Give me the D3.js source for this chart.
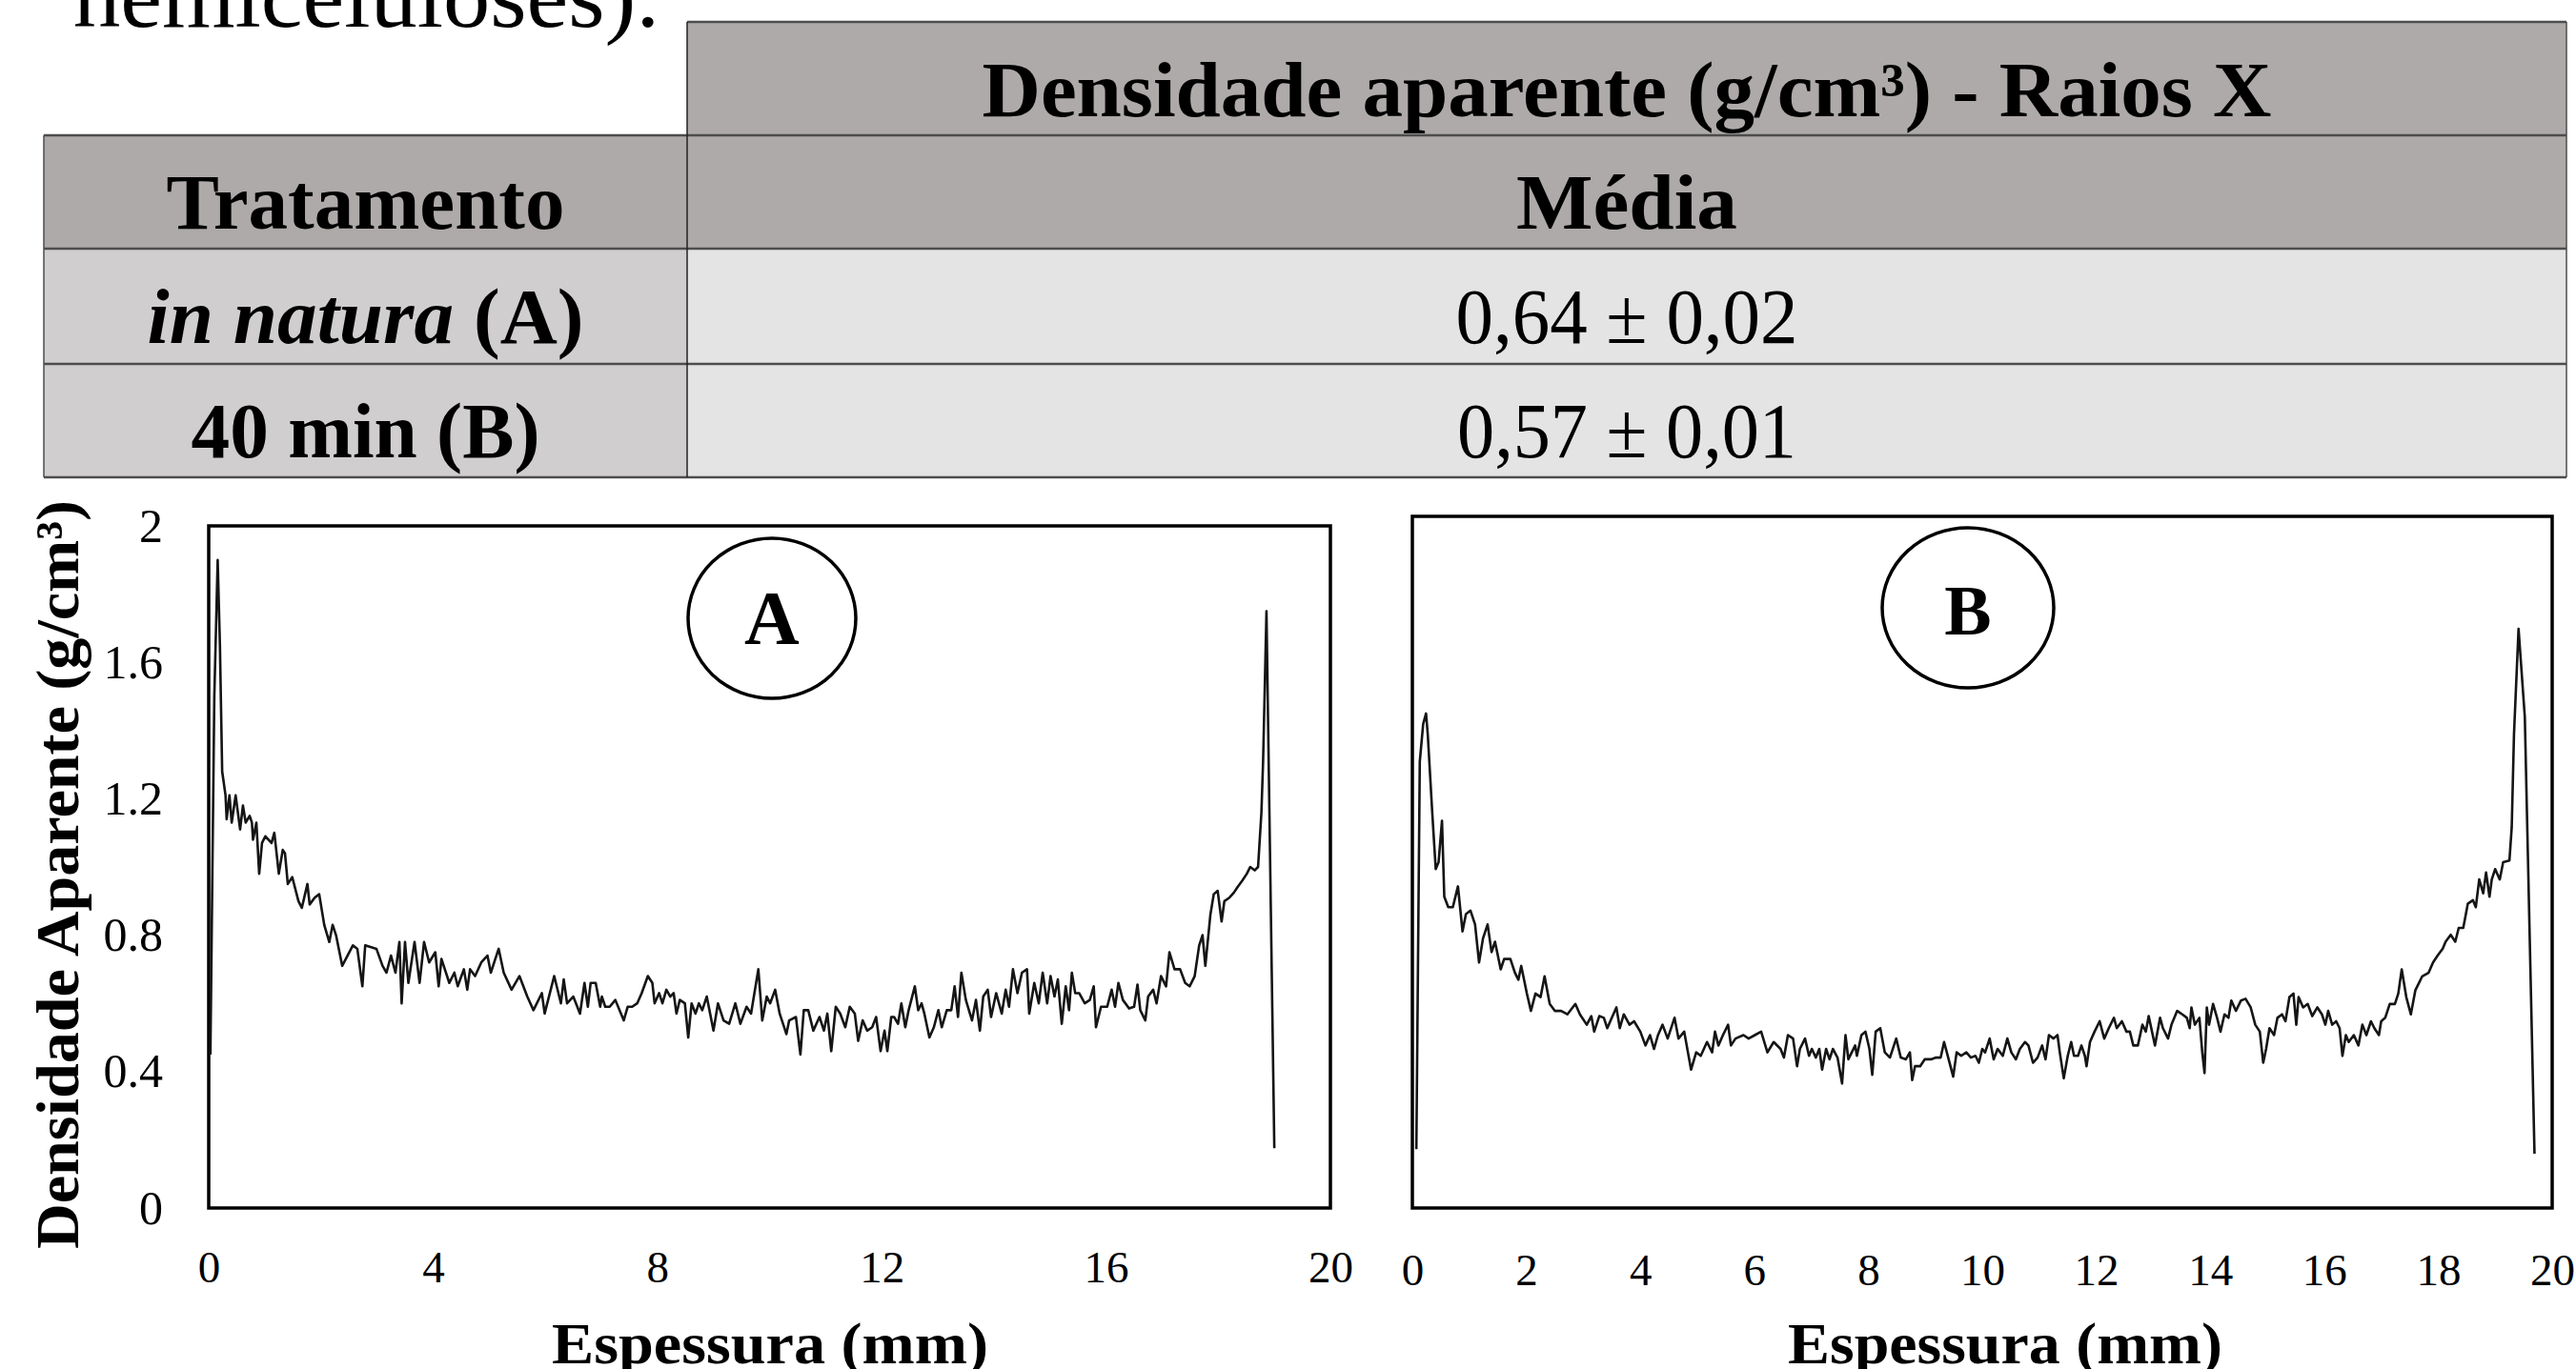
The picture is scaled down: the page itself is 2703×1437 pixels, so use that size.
<!DOCTYPE html>
<html>
<head>
<meta charset="utf-8">
<script src="https://cdn.jsdelivr.net/npm/d3@7"></script>
<style>
  html, body { margin: 0; padding: 0; background: #fff; }
  svg { display: block; }
  text { font-family: "Liberation Serif", "Times New Roman", serif; fill: #000; }
</style>
</head>
<body>
<div id="chart"></div>
<script>
// table contents
const headerTop = 'Densidade aparente (g/cm³) - Raios X';
const headerLeft = 'Tratamento';
const headerRight = 'Média';
const tratamentos = ['in natura (A)', '40 min (B)'];
const medias = ['0,64 ± 0,02', '0,57 ± 0,01'];

// axis ticks
const yTicks = [0, 0.4, 0.8, 1.2, 1.6, 2];
const xTicksA = [0, 4, 8, 12, 16, 20];
const xTicksB = [0, 2, 4, 6, 8, 10, 12, 14, 16, 18, 20];

// density profile A (in natura): [espessura mm, densidade g/cm3]
const perfilA = [
    [0.03, 0.45], [0.10, 1.50], [0.16, 1.90], [0.20, 1.65], [0.24, 1.28], [0.30, 1.21], [0.32, 1.14], [0.37, 1.21],
    [0.41, 1.13], [0.48, 1.21], [0.56, 1.11], [0.61, 1.18], [0.66, 1.13], [0.73, 1.15], [0.77, 1.13], [0.79, 1.08],
    [0.85, 1.13], [0.90, 0.98], [0.95, 1.07], [1.01, 1.09], [1.12, 1.07], [1.17, 1.10], [1.25, 0.98], [1.32, 1.05],
    [1.36, 1.04], [1.41, 0.95], [1.49, 0.97], [1.60, 0.90], [1.66, 0.88], [1.76, 0.95], [1.80, 0.89], [1.89, 0.91],
    [1.97, 0.92], [2.06, 0.83], [2.15, 0.78], [2.21, 0.83], [2.27, 0.80], [2.38, 0.71], [2.57, 0.77], [2.65, 0.76],
    [2.74, 0.65], [2.79, 0.77], [2.99, 0.76], [3.10, 0.71], [3.17, 0.69], [3.25, 0.74], [3.33, 0.69], [3.40, 0.78],
    [3.44, 0.60], [3.50, 0.78], [3.56, 0.66], [3.67, 0.78], [3.76, 0.66], [3.84, 0.78], [3.93, 0.72], [4.04, 0.75],
    [4.10, 0.65], [4.15, 0.73], [4.29, 0.66], [4.38, 0.69], [4.44, 0.65], [4.55, 0.70], [4.61, 0.64], [4.66, 0.70],
    [4.75, 0.68], [4.86, 0.72], [4.97, 0.74], [5.03, 0.69], [5.17, 0.76], [5.26, 0.69], [5.40, 0.64], [5.54, 0.68],
    [5.68, 0.62], [5.79, 0.58], [5.94, 0.63], [5.99, 0.57], [6.16, 0.68], [6.28, 0.60], [6.33, 0.67], [6.39, 0.60],
    [6.50, 0.62], [6.62, 0.57], [6.70, 0.66], [6.76, 0.59], [6.81, 0.66], [6.90, 0.66], [6.98, 0.59], [7.01, 0.62],
    [7.07, 0.59], [7.15, 0.59], [7.25, 0.61], [7.40, 0.55], [7.47, 0.59], [7.55, 0.59], [7.64, 0.60], [7.72, 0.63],
    [7.83, 0.68], [7.91, 0.66], [7.95, 0.60], [8.03, 0.63], [8.09, 0.60], [8.16, 0.64], [8.23, 0.62], [8.29, 0.63],
    [8.34, 0.57], [8.40, 0.61], [8.49, 0.60], [8.55, 0.50], [8.61, 0.60], [8.68, 0.57], [8.74, 0.60], [8.80, 0.58],
    [8.88, 0.62], [9.00, 0.52], [9.08, 0.60], [9.18, 0.55], [9.28, 0.54], [9.39, 0.60], [9.48, 0.54], [9.59, 0.59],
    [9.67, 0.57], [9.80, 0.70], [9.87, 0.55], [9.95, 0.62], [10.01, 0.60], [10.10, 0.64], [10.18, 0.57], [10.30, 0.51],
    [10.35, 0.55], [10.47, 0.56], [10.55, 0.45], [10.61, 0.58], [10.69, 0.58], [10.78, 0.52], [10.89, 0.56], [10.97, 0.52],
    [11.03, 0.57], [11.10, 0.46], [11.18, 0.59], [11.26, 0.57], [11.35, 0.53], [11.43, 0.59], [11.52, 0.57], [11.58, 0.49],
    [11.66, 0.55], [11.74, 0.52], [11.83, 0.53], [11.90, 0.56], [11.98, 0.46], [12.05, 0.52], [12.10, 0.46], [12.17, 0.56],
    [12.22, 0.56], [12.29, 0.54], [12.35, 0.60], [12.42, 0.53], [12.48, 0.58], [12.59, 0.65], [12.65, 0.58], [12.71, 0.60],
    [12.76, 0.57], [12.85, 0.50], [12.93, 0.53], [13.01, 0.58], [13.07, 0.53], [13.16, 0.58], [13.24, 0.58], [13.30, 0.65],
    [13.36, 0.56], [13.42, 0.69], [13.50, 0.61], [13.61, 0.55], [13.68, 0.61], [13.75, 0.52], [13.81, 0.62], [13.89, 0.64],
    [13.95, 0.56], [14.04, 0.63], [14.14, 0.57], [14.21, 0.64], [14.27, 0.59], [14.34, 0.70], [14.42, 0.63], [14.50, 0.69],
    [14.59, 0.70], [14.63, 0.57], [14.72, 0.66], [14.80, 0.60], [14.87, 0.69], [14.95, 0.60], [15.01, 0.68], [15.08, 0.62],
    [15.14, 0.67], [15.21, 0.54], [15.28, 0.65], [15.34, 0.58], [15.39, 0.69], [15.45, 0.63], [15.52, 0.63], [15.62, 0.60],
    [15.71, 0.61], [15.78, 0.65], [15.82, 0.53], [15.91, 0.59], [16.02, 0.59], [16.10, 0.64], [16.16, 0.59], [16.22, 0.66],
    [16.30, 0.61], [16.41, 0.585], [16.50, 0.59], [16.56, 0.655], [16.61, 0.58], [16.70, 0.55], [16.75, 0.62], [16.84, 0.64],
    [16.90, 0.60], [16.98, 0.68], [17.07, 0.65], [17.13, 0.75], [17.22, 0.70], [17.32, 0.70], [17.41, 0.66], [17.49, 0.65],
    [17.58, 0.68], [17.66, 0.77], [17.72, 0.80], [17.77, 0.71], [17.86, 0.86], [17.92, 0.92], [17.99, 0.93], [18.06, 0.84],
    [18.11, 0.90], [18.20, 0.91], [18.28, 0.925], [18.34, 0.94], [18.43, 0.96], [18.51, 0.98], [18.57, 1.00], [18.65, 0.99],
    [18.71, 1.00], [18.77, 1.16], [18.80, 1.31], [18.86, 1.75], [19.00, 0.175],
];

// density profile B (40 min)
const perfilB = [
    [0.07, 0.17], [0.13, 1.29], [0.19, 1.40], [0.24, 1.43], [0.27, 1.37], [0.35, 1.14], [0.41, 0.98], [0.46, 1.00],
    [0.52, 1.12], [0.56, 0.90], [0.63, 0.87], [0.71, 0.87], [0.80, 0.93], [0.88, 0.80], [0.94, 0.85], [1.02, 0.86],
    [1.10, 0.82], [1.17, 0.71], [1.24, 0.78], [1.32, 0.82], [1.39, 0.74], [1.45, 0.77], [1.55, 0.69], [1.61, 0.72],
    [1.72, 0.72], [1.80, 0.68], [1.86, 0.66], [1.91, 0.70], [2.01, 0.62], [2.08, 0.57], [2.16, 0.62], [2.25, 0.61],
    [2.32, 0.67], [2.41, 0.59], [2.50, 0.57], [2.61, 0.57], [2.72, 0.56], [2.86, 0.59], [2.94, 0.56], [3.06, 0.53],
    [3.14, 0.555], [3.19, 0.51], [3.28, 0.555], [3.36, 0.55], [3.42, 0.52], [3.50, 0.55], [3.58, 0.58], [3.64, 0.52],
    [3.71, 0.56], [3.81, 0.53], [3.89, 0.54], [4.00, 0.51], [4.09, 0.47], [4.17, 0.50], [4.24, 0.46], [4.31, 0.50],
    [4.39, 0.53], [4.48, 0.49], [4.60, 0.55], [4.67, 0.49], [4.77, 0.51], [4.89, 0.40], [4.98, 0.45], [5.06, 0.44],
    [5.17, 0.48], [5.26, 0.45], [5.31, 0.51], [5.37, 0.47], [5.45, 0.50], [5.54, 0.53], [5.59, 0.47], [5.67, 0.49],
    [5.81, 0.50], [5.90, 0.49], [6.01, 0.50], [6.12, 0.51], [6.23, 0.45], [6.34, 0.48], [6.46, 0.46], [6.52, 0.435],
    [6.59, 0.50], [6.68, 0.49], [6.75, 0.41], [6.80, 0.46], [6.89, 0.49], [6.96, 0.44], [7.01, 0.46], [7.08, 0.435],
    [7.14, 0.46], [7.19, 0.40], [7.26, 0.46], [7.32, 0.43], [7.38, 0.46], [7.46, 0.435], [7.54, 0.36], [7.60, 0.50],
    [7.65, 0.43], [7.71, 0.45], [7.77, 0.47], [7.80, 0.44], [7.88, 0.50], [7.95, 0.51], [8.02, 0.46], [8.07, 0.385],
    [8.13, 0.51], [8.21, 0.52], [8.29, 0.45], [8.38, 0.435], [8.49, 0.49], [8.57, 0.435], [8.66, 0.43], [8.73, 0.45],
    [8.77, 0.37], [8.82, 0.41], [8.91, 0.41], [8.99, 0.43], [9.10, 0.43], [9.19, 0.435], [9.27, 0.435], [9.33, 0.48],
    [9.41, 0.43], [9.49, 0.38], [9.55, 0.45], [9.63, 0.44], [9.72, 0.45], [9.80, 0.435], [9.88, 0.44], [9.94, 0.42],
    [10.00, 0.46], [10.05, 0.45], [10.13, 0.49], [10.20, 0.43], [10.27, 0.46], [10.36, 0.44], [10.44, 0.49], [10.51, 0.45],
    [10.59, 0.43], [10.66, 0.46], [10.75, 0.48], [10.81, 0.47], [10.89, 0.42], [10.97, 0.435], [11.05, 0.47], [11.11, 0.43],
    [11.17, 0.50], [11.25, 0.49], [11.32, 0.50], [11.36, 0.45], [11.43, 0.375], [11.50, 0.44], [11.56, 0.48], [11.61, 0.44],
    [11.68, 0.44], [11.74, 0.47], [11.80, 0.44], [11.83, 0.41], [11.89, 0.48], [11.97, 0.51], [12.06, 0.54], [12.14, 0.49],
    [12.22, 0.52], [12.31, 0.55], [12.36, 0.52], [12.45, 0.54], [12.53, 0.51], [12.59, 0.51], [12.65, 0.47], [12.73, 0.47],
    [12.81, 0.53], [12.87, 0.51], [12.92, 0.555], [13.03, 0.47], [13.12, 0.55], [13.17, 0.52], [13.26, 0.49], [13.32, 0.53],
    [13.42, 0.57], [13.51, 0.56], [13.59, 0.55], [13.64, 0.52], [13.67, 0.58], [13.73, 0.53], [13.81, 0.55], [13.86, 0.45],
    [13.90, 0.39], [13.94, 0.58], [13.98, 0.53], [14.05, 0.59], [14.12, 0.55], [14.18, 0.51], [14.25, 0.56], [14.32, 0.55],
    [14.37, 0.60], [14.45, 0.57], [14.54, 0.60], [14.62, 0.605], [14.71, 0.58], [14.79, 0.53], [14.87, 0.51], [14.93, 0.42],
    [14.98, 0.46], [15.04, 0.52], [15.12, 0.50], [15.18, 0.55], [15.26, 0.56], [15.32, 0.54], [15.39, 0.61], [15.46, 0.62],
    [15.51, 0.53], [15.55, 0.61], [15.63, 0.58], [15.71, 0.59], [15.79, 0.555], [15.88, 0.58], [15.96, 0.56], [16.02, 0.53],
    [16.07, 0.57], [16.14, 0.53], [16.21, 0.54], [16.27, 0.52], [16.32, 0.44], [16.38, 0.50], [16.43, 0.48], [16.52, 0.50],
    [16.60, 0.47], [16.67, 0.53], [16.74, 0.50], [16.82, 0.54], [16.88, 0.52], [16.96, 0.50], [17.00, 0.54], [17.07, 0.55],
    [17.15, 0.59], [17.24, 0.59], [17.30, 0.62], [17.36, 0.69], [17.44, 0.61], [17.52, 0.56], [17.60, 0.63], [17.72, 0.67],
    [17.83, 0.68], [17.91, 0.71], [17.99, 0.73], [18.08, 0.75], [18.13, 0.77], [18.22, 0.79], [18.30, 0.77], [18.36, 0.81],
    [18.44, 0.81], [18.52, 0.88], [18.61, 0.89], [18.66, 0.87], [18.72, 0.95], [18.79, 0.91], [18.84, 0.97], [18.90, 0.90],
    [18.94, 0.95], [19.00, 0.98], [19.08, 0.95], [19.14, 1.00], [19.25, 1.005], [19.29, 1.10], [19.33, 1.37], [19.41, 1.675],
    [19.52, 1.42], [19.69, 0.157],
];

const width = 2703;
const height = 1437;

const svg = d3.select('#chart').append('svg')
    .attr('width', width)
    .attr('height', height)
    .attr('viewBox', `0 0 ${width} ${height}`);

svg.append('rect').attr('width', width).attr('height', height).attr('fill', '#fff');

/**
 * TEXT ABOVE THE TABLE (cut by the page edge, as in the source)
 * */
svg.append('text')
    .attr('x', 77)
    .attr('y', 28)
    .attr('font-size', 96)
    .attr('textLength', 615)
    .attr('lengthAdjust', 'spacingAndGlyphs')
    .text('hemiceluloses).');

/**
 * TABLE
 * */
const table = {left: 46, mid: 721, right: 2693, rows: [23, 142, 261, 382, 501]};
const colors = {head: '#aeaaa9', side: '#d0cecf', cell: '#e4e4e4', line: '#4d4d4d'};
const tableG = svg.append('g').attr('class', 'table');

const addCell = (x, y, w, h, fill) => tableG.append('rect')
    .attr('x', x).attr('y', y).attr('width', w).attr('height', h).attr('fill', fill);

const r = table.rows;
addCell(table.mid, r[0], table.right - table.mid, r[1] - r[0], colors.head);
addCell(table.left, r[1], table.right - table.left, r[2] - r[1], colors.head);
tratamentos.forEach((t, i) => {
    addCell(table.left, r[i + 2], table.mid - table.left, r[i + 3] - r[i + 2], colors.side);
    addCell(table.mid, r[i + 2], table.right - table.mid, r[i + 3] - r[i + 2], colors.cell);
});

// horizontal rules
tableG.append('line')
    .attr('x1', table.mid).attr('x2', table.right).attr('y1', r[0]).attr('y2', r[0])
    .attr('stroke', colors.line).attr('stroke-width', 2.5);
r.slice(1).forEach((y) => {
    tableG.append('line')
        .attr('x1', table.left).attr('x2', table.right).attr('y1', y).attr('y2', y)
        .attr('stroke', colors.line).attr('stroke-width', 2.5);
});
// vertical rules
tableG.append('line').attr('x1', table.mid).attr('x2', table.mid).attr('y1', r[0]).attr('y2', r[4])
    .attr('stroke', '#222').attr('stroke-width', 1.5);
tableG.append('line').attr('x1', table.left).attr('x2', table.left).attr('y1', r[1]).attr('y2', r[4])
    .attr('stroke', colors.line).attr('stroke-width', 1.5);
tableG.append('line').attr('x1', table.right).attr('x2', table.right).attr('y1', r[0]).attr('y2', r[4])
    .attr('stroke', colors.line).attr('stroke-width', 1.5);

const leftCenter = (table.left + table.mid) / 2;
const rightCenter = (table.mid + table.right) / 2;

const addTableText = (x, y, txt, len, bold = true) => tableG.append('text')
    .attr('x', x).attr('y', y)
    .attr('text-anchor', 'middle')
    .attr('font-size', 83)
    .attr('font-weight', bold ? 'bold' : 'normal')
    .attr('textLength', len)
    .attr('lengthAdjust', 'spacingAndGlyphs')
    .text(txt);

addTableText(rightCenter, 122, headerTop, 1353);
addTableText(leftCenter, 240, headerLeft, 418);
addTableText(rightCenter, 240, headerRight, 232);

const treatLen = [458, 366];
const meanLen = [359, 356];
tratamentos.forEach((t, i) => {
    const y = 360 + i * 120;
    const el = tableG.append('text')
        .attr('x', leftCenter).attr('y', y)
        .attr('text-anchor', 'middle')
        .attr('font-size', 83)
        .attr('font-weight', 'bold')
        .attr('textLength', treatLen[i])
        .attr('lengthAdjust', 'spacingAndGlyphs');
    const m = t.match(/^(in natura)(.*)$/);
    if (m) {
        el.append('tspan').attr('font-style', 'italic').text(m[1]);
        el.append('tspan').text(m[2]);
    } else {
        el.text(t);
    }
    addTableText(rightCenter, y, medias[i], meanLen[i], false);
});

/**
 * DENSITY PROFILE PANELS
 * */
const panels = [
    {
        id: 'A', data: perfilA, xTicks: xTicksA, showY: true,
        box: {left: 219, right: 1396, top: 552, bottom: 1268},
        tickPad: 45, title: {x: 808, len: 458},
        badge: {cx: 810, cy: 649, rx: 88, ry: 84, size: 80, base: 676},
    },
    {
        id: 'B', data: perfilB, xTicks: xTicksB, showY: false,
        box: {left: 1482, right: 2678, top: 542, bottom: 1268},
        tickPad: 48, title: {x: 2104, len: 456},
        badge: {cx: 2065, cy: 638, rx: 90, ry: 84, size: 74, base: 666},
    },
];

panels.forEach((p) => {
    const g = svg.append('g').attr('class', `panel-${p.id}`);
    const x = d3.scaleLinear().domain([0, 20]).range([p.box.left, p.box.right]);
    const y = d3.scaleLinear().domain([0, 2]).range([p.box.bottom, p.box.top]);

    // frame
    g.append('rect')
        .attr('x', x(0)).attr('y', y(2))
        .attr('width', x(20) - x(0)).attr('height', y(0) - y(2))
        .attr('fill', 'none').attr('stroke', '#000').attr('stroke-width', 3.5);

    // profile line
    const line = d3.line().x(d => x(d[0])).y(d => y(d[1]));
    g.append('path')
        .datum(p.data)
        .attr('d', line)
        .attr('fill', 'none')
        .attr('stroke', '#151515')
        .attr('stroke-width', 2.6)
        .attr('stroke-linejoin', 'round');

    // x axis labels
    const xAxis = g.append('g')
        .attr('transform', `translate(0, ${p.box.bottom})`)
        .call(d3.axisBottom(x).tickValues(p.xTicks).tickSize(0).tickPadding(p.tickPad).tickFormat(d3.format('d')));
    xAxis.select('.domain').remove();
    xAxis.selectAll('text')
        .attr('font-size', 47)
        .attr('font-family', '"Liberation Serif", serif')
        .attr('fill', '#000');

    if (p.showY) {
        const yAxis = g.append('g')
            .attr('transform', `translate(${p.box.left}, 0)`)
            .call(d3.axisLeft(y).tickValues(yTicks).tickSize(0).tickPadding(48).tickFormat(d3.format('~g')));
        yAxis.select('.domain').remove();
        yAxis.selectAll('text')
            .attr('font-size', 50)
            .attr('font-family', '"Liberation Serif", serif')
            .attr('fill', '#000');

        const cy = (p.box.top + p.box.bottom) / 2 + 8;
        g.append('text')
            .attr('transform', `translate(82, ${cy}) rotate(-90)`)
            .attr('text-anchor', 'middle')
            .attr('font-size', 64)
            .attr('font-weight', 'bold')
            .attr('textLength', 786)
            .attr('lengthAdjust', 'spacingAndGlyphs')
            .text('Densidade Aparente (g/cm³)');
    }

    // x title
    g.append('text')
        .attr('x', p.title.x).attr('y', 1431)
        .attr('text-anchor', 'middle')
        .attr('font-size', 62)
        .attr('font-weight', 'bold')
        .attr('textLength', p.title.len)
        .attr('lengthAdjust', 'spacingAndGlyphs')
        .text('Espessura (mm)');

    // panel badge
    g.append('ellipse')
        .attr('cx', p.badge.cx).attr('cy', p.badge.cy)
        .attr('rx', p.badge.rx).attr('ry', p.badge.ry)
        .attr('fill', '#fff').attr('stroke', '#000').attr('stroke-width', 3.5);
    g.append('text')
        .attr('x', p.badge.cx).attr('y', p.badge.base)
        .attr('text-anchor', 'middle')
        .attr('font-size', p.badge.size)
        .attr('font-weight', 'bold')
        .text(p.id);
});
</script>
</body>
</html>
